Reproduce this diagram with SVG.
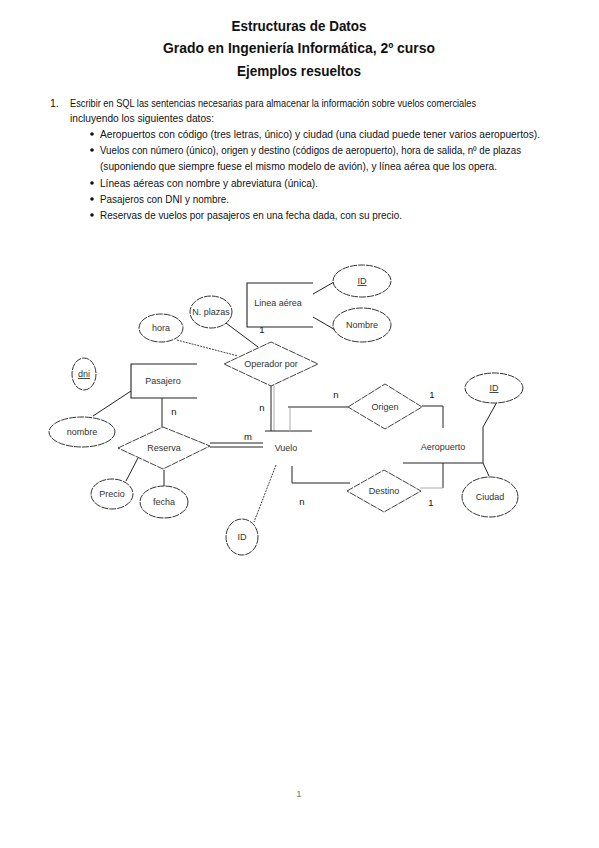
<svg xmlns="http://www.w3.org/2000/svg" width="599" height="848" viewBox="0 0 599 848">
<style>
.t{font-family:"Liberation Sans",Arial,sans-serif;font-weight:bold;font-size:15px;fill:#111;text-anchor:middle}
.p{font-family:"Liberation Sans",Arial,sans-serif;font-size:10.5px;fill:#111}
.l{font-family:"Liberation Sans",Arial,sans-serif;font-size:9px;fill:#333;text-anchor:middle}
.c{font-family:"Liberation Sans",Arial,sans-serif;font-size:9.5px;fill:#111;text-anchor:middle}
.e{fill:#fff;stroke:#333;stroke-width:1;stroke-dasharray:7 1}
.d{fill:#fff;stroke:#444;stroke-width:1;stroke-dasharray:7 1}
.r{fill:none;stroke:#222;stroke-width:1.1}
.k{fill:none;stroke:#222;stroke-width:1}
.g{fill:none;stroke:#aaa;stroke-width:1}
.dl{fill:none;stroke:#444;stroke-width:1;stroke-dasharray:2 1}
</style>
<rect width="599" height="848" fill="#fff"/>
<g id="header">
<text class="t" x="299" y="31" textLength="135" lengthAdjust="spacingAndGlyphs">Estructuras de Datos</text>
<text class="t" x="299" y="53" textLength="272" lengthAdjust="spacingAndGlyphs">Grado en Ingeniería Informática, 2º curso</text>
<text class="t" x="299" y="76" textLength="124" lengthAdjust="spacingAndGlyphs">Ejemplos resueltos</text>
</g>
<g id="statement">
<text class="p" x="50" y="107">1.</text>
<text class="p" x="70" y="107" textLength="406" lengthAdjust="spacingAndGlyphs">Escribir en SQL las sentencias necesarias para almacenar la información sobre vuelos comerciales</text>
<text class="p" x="70" y="122" textLength="144" lengthAdjust="spacingAndGlyphs">incluyendo los siguientes datos:</text>
<g fill="#111"><circle cx="92" cy="134" r="1.8"/><circle cx="92" cy="150" r="1.8"/><circle cx="92" cy="183" r="1.8"/><circle cx="92" cy="199" r="1.8"/><circle cx="92" cy="215" r="1.8"/></g>
<text class="p" x="100" y="137.5" textLength="440" lengthAdjust="spacingAndGlyphs">Aeropuertos con código (tres letras, único) y ciudad (una ciudad puede tener varios aeropuertos).</text>
<text class="p" x="100" y="153.5" textLength="421" lengthAdjust="spacingAndGlyphs">Vuelos con número (único), origen y destino (códigos de aeropuerto), hora de salida, nº de plazas</text>
<text class="p" x="100" y="169.5" textLength="397" lengthAdjust="spacingAndGlyphs">(suponiendo que siempre fuese el mismo modelo de avión), y línea aérea que los opera.</text>
<text class="p" x="100" y="186.5" textLength="218" lengthAdjust="spacingAndGlyphs">Líneas aéreas con nombre y abreviatura (única).</text>
<text class="p" x="100" y="202.5" textLength="129" lengthAdjust="spacingAndGlyphs">Pasajeros con DNI y nombre.</text>
<text class="p" x="100" y="218.5" textLength="302" lengthAdjust="spacingAndGlyphs">Reservas de vuelos por pasajeros en una fecha dada, con su precio.</text>
</g>
<g id="connectors">
<line class="k" x1="313" y1="294" x2="334" y2="282"/>
<line class="k" x1="313" y1="317" x2="337" y2="331"/>
<line class="k" x1="226" y1="323" x2="258" y2="347"/>
<line class="dl" x1="177" y1="340" x2="238" y2="356"/>
<line class="k" x1="271" y1="385" x2="271" y2="431"/>
<line class="g" x1="274" y1="385" x2="274" y2="431"/>
<line class="k" x1="265" y1="431" x2="312" y2="431"/>
<line class="g" x1="290" y1="408" x2="290" y2="431"/>
<polyline class="k" points="288,407 348,407"/>
<polyline class="k" points="422,406 443,406 443,428"/>
<polyline class="k" points="292,466 292,483 350,483"/>
<line class="k" x1="403" y1="463" x2="483" y2="463"/>
<line class="k" x1="443" y1="463" x2="443" y2="488"/>
<line class="g" x1="420" y1="488" x2="443" y2="488"/>
<polyline class="k" points="497,402 483,427 483,463 489,476"/>
<line class="k" x1="210" y1="443" x2="263" y2="443"/>
<line class="k" x1="210" y1="447" x2="263" y2="447"/>
<line class="dl" x1="276" y1="465" x2="254" y2="522"/>
<line class="k" x1="131" y1="391" x2="93" y2="416"/>
<line class="k" x1="162" y1="398" x2="162" y2="427"/>
<line class="k" x1="138" y1="458" x2="126" y2="481"/>
<line class="k" x1="164" y1="470" x2="164" y2="486"/>
<text class="c" x="262" y="333">1</text>
<text class="c" x="262" y="411">n</text>
<text class="c" x="336" y="398">n</text>
<text class="c" x="432" y="398">1</text>
<text class="c" x="302" y="505">n</text>
<text class="c" x="431" y="506">1</text>
<text class="c" x="248" y="440">m</text>
<text class="c" x="174" y="415">n</text>
</g>
<g id="linea-aerea">
<polyline class="r" points="313,283 247,283 247,327 313,327"/>
<text class="l" x="278" y="306">Linea aérea</text>
</g>
<g id="linea-id">
<ellipse class="e" cx="362" cy="281" rx="29" ry="16"/>
<text class="l" x="362" y="284" text-decoration="underline">ID</text>
</g>
<g id="linea-nombre">
<ellipse class="e" cx="362" cy="325" rx="29" ry="17"/>
<text class="l" x="362" y="328">Nombre</text>
</g>
<g id="nplazas">
<ellipse class="e" cx="211" cy="312" rx="21" ry="16"/>
<text class="l" x="211" y="315" font-size="8.5">N. plazas</text>
</g>
<g id="hora">
<ellipse class="e" cx="161" cy="328" rx="22" ry="14"/>
<text class="l" x="161" y="331">hora</text>
</g>
<g id="operador-por">
<polygon class="d" points="224,364 271,342 318,364 271,386"/>
<text class="l" x="271" y="367">Operador por</text>
</g>
<g id="pasajero">
<polyline class="r" points="197,364 131,364 131,398 197,398"/>
<text class="l" x="163" y="384">Pasajero</text>
</g>
<g id="dni">
<ellipse class="e" cx="84" cy="374" rx="12" ry="16"/>
<text class="l" x="84" y="377" text-decoration="underline">dni</text>
</g>
<g id="pasajero-nombre">
<ellipse class="e" cx="82" cy="432" rx="33" ry="15"/>
<text class="l" x="82" y="435">nombre</text>
</g>
<g id="reserva">
<polygon class="d" points="118,448 163,427 210,446 163,469"/>
<text class="l" x="164" y="451">Reserva</text>
</g>
<g id="precio">
<ellipse class="e" cx="112" cy="494" rx="21" ry="15"/>
<text class="l" x="112" y="497">Precio</text>
</g>
<g id="fecha">
<ellipse class="e" cx="164" cy="502" rx="24" ry="16"/>
<text class="l" x="164" y="505">fecha</text>
</g>
<g id="vuelo">
<text class="l" x="286" y="451">Vuelo</text>
</g>
<g id="vuelo-id">
<ellipse class="e" cx="242" cy="537" rx="16" ry="18"/>
<text class="l" x="242" y="540">ID</text>
</g>
<g id="origen">
<polygon class="d" points="348,407 385,384 422,407 385,429"/>
<text class="l" x="385" y="410">Origen</text>
</g>
<g id="destino">
<polygon class="d" points="347,491 384,470 421,491 384,512"/>
<text class="l" x="384" y="494">Destino</text>
</g>
<g id="aeropuerto">
<text class="l" x="443" y="450">Aeropuerto</text>
</g>
<g id="aeropuerto-id">
<ellipse class="e" cx="494" cy="388" rx="29" ry="15"/>
<text class="l" x="494" y="391" text-decoration="underline">ID</text>
</g>
<g id="ciudad">
<ellipse class="e" cx="490" cy="497" rx="28" ry="20"/>
<text class="l" x="490" y="500">Ciudad</text>
</g>
<g id="footer">
<text class="c" x="299" y="797" style="fill:#777">1</text>
</g>
</svg>
